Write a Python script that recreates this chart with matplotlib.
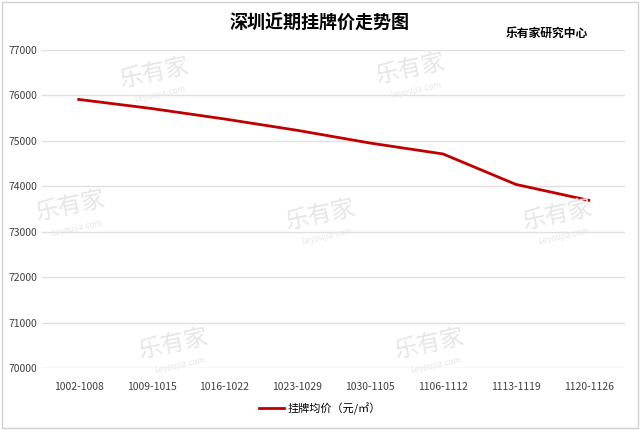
import matplotlib.pyplot as plt
from matplotlib.patches import Rectangle

plt.rcParams['font.family'] = ['Noto Sans CJK SC', 'DejaVu Sans']

weeks = ["1002-1008", "1009-1015", "1016-1022", "1023-1029",
         "1030-1105", "1106-1112", "1113-1119", "1120-1126"]
avg_price = [75910, 75710, 75480, 75230, 74950, 74710, 74040, 73690]
y_ticks = [70000, 71000, 72000, 73000, 74000, 75000, 76000, 77000]

fig = plt.figure(figsize=(6.4, 4.3), dpi=100)
ax = fig.add_axes([0.066, 0.144, 0.911, 0.74])

# faint watermarks in the background
for wx, wy in [(0.24, 0.83), (0.64, 0.84), (0.11, 0.52), (0.5, 0.5),
               (0.87, 0.5), (0.27, 0.2), (0.67, 0.2)]:
    fig.text(wx, wy, "乐有家", fontsize=17, color="#e6e6e6",
             rotation=12, ha="center", va="center", zorder=0)
    fig.text(wx + 0.01, wy - 0.05, "Leyoujia.com", fontsize=6, color="#e6e6e6",
             rotation=12, ha="center", va="center", zorder=0)

ax.set_facecolor("none")
ax.plot(range(len(weeks)), avg_price, color="#c00000", linewidth=2.0,
        label="挂牌均价（元/㎡）", zorder=3)

ax.set_xlim(-0.5, len(weeks) - 0.5)
ax.set_ylim(70000, 77000)
ax.set_yticks(y_ticks)
ax.set_xticks(range(len(weeks)))
ax.set_xticklabels(weeks)
ax.tick_params(axis="both", length=0, labelsize=7.5, colors="#404040")
ax.tick_params(axis="x", pad=10)
ax.grid(axis="y", color="#e0e0e0", linewidth=1)
ax.set_axisbelow(True)
for s in ax.spines.values():
    s.set_visible(False)

fig.text(0.5, 0.945, "深圳近期挂牌价走势图", fontsize=13, fontweight="bold",
         ha="center", va="center")
fig.text(0.855, 0.922, "乐有家研究中心", fontsize=8.5, fontweight="bold",
         ha="center", va="center")

fig.legend(loc="center", bbox_to_anchor=(0.5, 0.05), frameon=False,
           fontsize=8, handlelength=2.2, handletextpad=0.3)

fig.patches.append(Rectangle((0.003, 0.005), 0.994, 0.99, transform=fig.transFigure,
                             fill=False, edgecolor="#d0d0d0", linewidth=1))

fig.savefig("out.png", dpi=100)
